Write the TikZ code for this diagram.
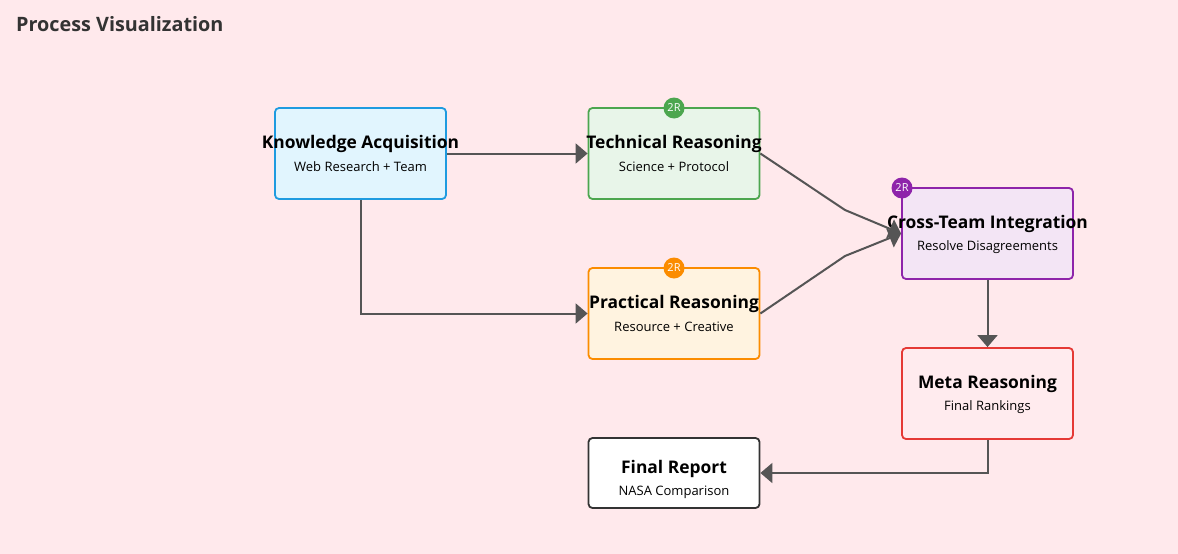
\documentclass[tikz,border=0pt]{standalone}
\usepackage{fontspec}
\setmainfont{Open Sans}
\usetikzlibrary{arrows.meta}
\definecolor{bg}{HTML}{FFE9EC}
\definecolor{kaB}{HTML}{1E9BE0}\definecolor{kaF}{HTML}{E1F5FE}
\definecolor{trB}{HTML}{4CA64F}\definecolor{trF}{HTML}{E8F5E9}
\definecolor{prB}{HTML}{FB8C00}\definecolor{prF}{HTML}{FFF3E0}
\definecolor{ctB}{HTML}{8E24AA}\definecolor{ctF}{HTML}{F3E5F5}
\definecolor{mrB}{HTML}{E53935}\definecolor{mrF}{HTML}{FFEBEE}
\definecolor{frB}{HTML}{333333}
\definecolor{lineC}{HTML}{555555}
\definecolor{titleC}{HTML}{333333}
\tikzset{
  box/.style={rectangle, rounded corners=4pt, line width=1.8pt, minimum width=171pt, minimum height=91pt, inner sep=0pt},
  ttl/.style={font=\fontsize{17.4}{19}\selectfont\bfseries, text=black, inner sep=0pt},
  sub/.style={font=\fontsize{13}{15}\selectfont, text=black, inner sep=0pt},
  badge/.style={circle, minimum size=21pt, inner sep=0pt, text=white, font=\fontsize{11}{12}\selectfont},
  conn/.style={draw=lineC, line width=2pt, -{Triangle[length=12pt,width=20pt]}},
}
\begin{document}
\begin{tikzpicture}[x=1pt,y=-1pt]
\fill[bg] (0,0) rectangle (1178,554);
\useasboundingbox (0,0) rectangle (1178,554);
\node[anchor=west, font=\fontsize{19.8}{22}\selectfont\bfseries, text=titleC, inner sep=0pt] (title) at (16,24) {Process Visualization};

\node[box, draw=kaB, fill=kaF] (ka) at (360.5,153.5) {};
\node[ttl] (kat) at (360.5,143.5) {Knowledge Acquisition};
\node[sub] (kas) at (360.5,167) {Web Research + Team};

\node[box, draw=trB, fill=trF] (tr) at (674,153.5) {};
\node[ttl] (trt) at (674,143.5) {Technical Reasoning};
\node[sub] (trs) at (674,167) {Science + Protocol};
\node[badge, fill=trB] (trb) at (674,108) {2R};

\node[box, draw=prB, fill=prF] (pr) at (674,313.5) {};
\node[ttl] (prt) at (674,303.5) {Practical Reasoning};
\node[sub] (prs) at (674,327) {Resource + Creative};
\node[badge, fill=prB] (prb) at (674,268) {2R};

\node[box, draw=ctB, fill=ctF] (ct) at (987.5,233.5) {};
\node[ttl] (ctt) at (987.5,223.5) {Cross-Team Integration};
\node[sub] (cts) at (987.5,247) {Resolve Disagreements};
\node[badge, fill=ctB] (ctb) at (902,188) {2R};

\node[box, draw=mrB, fill=mrF] (mr) at (987.5,393.5) {};
\node[ttl] (mrt) at (987.5,383.5) {Meta Reasoning};
\node[sub] (mrs) at (987.5,407) {Final Rankings};

\node[box, draw=frB, fill=white, minimum height=70pt] (fr) at (674,473) {};
\node[ttl] (frt) at (674,468.5) {Final Report};
\node[sub] (frs) at (674,492) {NASA Comparison};

\coordinate (b1) at (845,210);
\coordinate (b2) at (845,256);
\draw[conn] (ka.east) -- (tr.west);
\draw[conn] (ka.south) |- (pr.west);
\draw[conn] (tr.east) -- (b1) -- (ct.west);
\draw[conn] (pr.east) -- (b2) -- (ct.west);
\draw[conn] (ct.south) -- (mr.north);
\draw[conn] (mr.south) |- (fr.east);
\end{tikzpicture}
\end{document}
